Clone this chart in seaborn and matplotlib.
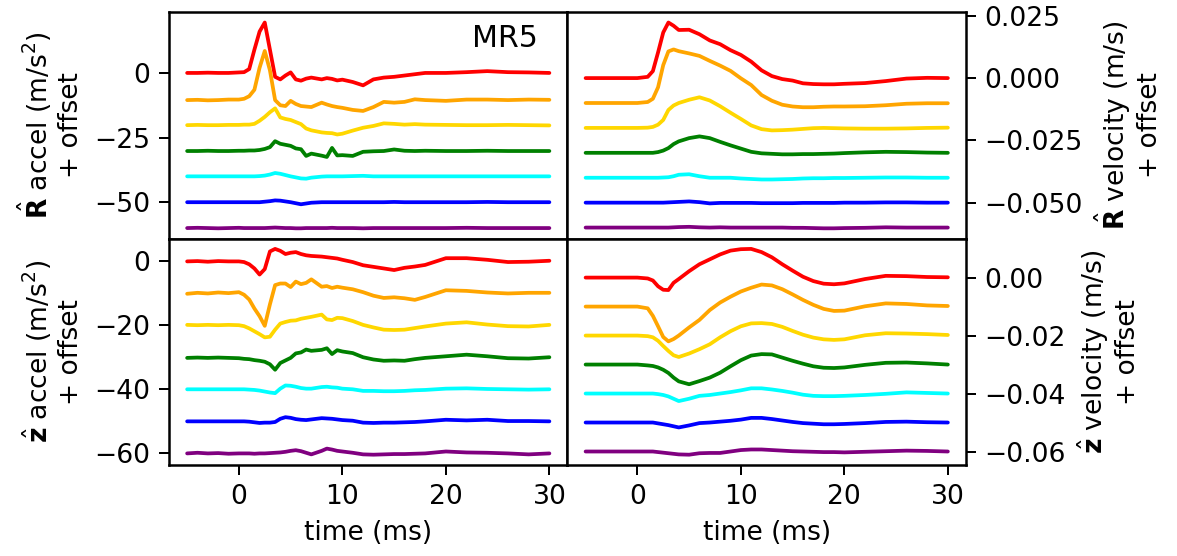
import numpy as np
import pandas as pd
import seaborn as sns
import matplotlib
matplotlib.use("Agg")
import matplotlib.pyplot as plt

# traces, top to bottom, each shifted by a fixed offset
trace_names = ["1", "2", "3", "4", "5", "6", "7"]
trace_colors = ["red", "orange", "gold", "green", "cyan", "blue", "purple"]
accel_offsets = [0, -10, -20, -30, -40, -50, -60]      # m/s^2
vel_offsets_mms = [0, -10, -20, -30, -40, -50, -60]    # mm/s

# time grid (ms) for the acceleration panels
t_acc = [-5, -4, -3, -2, -1, 0, 0.5, 1, 1.5, 2, 2.5, 3, 3.5, 4, 4.5, 5, 5.5, 6, 6.5, 7,
         8, 8.5, 9, 9.5, 10, 11, 12, 13, 14, 15, 16, 17, 18, 20, 22, 24, 26, 28, 30]

# R accel (m/s^2), before offset
r_acc = [
    [0, 0, 0.1, 0, 0, 0.2, 0.3, 1.5, 9, 16, 19.5, 9, -1.5, -2.5, -1, 0.2, -2.5, -3, -2.2, -1.8,
     -2.5, -2, -2.3, -2.9, -2.6, -3.5, -4.8, -2.5, -1.8, -1.5, -1, -0.5, 0, 0, 0.3, 0.7, 0.3, 0.2, 0],
    [-0.5, -0.4, -0.6, -0.5, -0.3, -0.3, 0, 1, 3.5, 12, 18.5, 11, -0.5, -2.5, -2.8, -0.8, -2, -2.8, -3, -3.2,
     -1.5, -2.2, -2.8, -3.2, -3.5, -4.3, -4.7, -3.2, -1.2, -1.5, -1.2, -0.2, -0.5, -0.8, -0.3, -0.3, -0.5, -0.3, -0.4],
    [-0.2, -0.1, -0.2, -0.2, -0.1, -0.1, 0, 0, 0.3, 1.5, 3, 4.8, 6.3, 2.8, 2.2, 1.8, 1.0, 0.2, -1.5, -2.2,
     -3, -3.2, -3.3, -3.8, -3.5, -2.3, -1.2, -0.5, 0.5, 0.3, 0, 0.2, 0, -0.1, -0.2, -0.2, -0.1, -0.2, -0.3],
    [-0.2, -0.2, -0.1, -0.2, -0.2, -0.1, -0.1, 0, 0, 0.2, 0.6, 1.3, 3.6, 2.6, 2.2, 1.8, 0.8, 0.5, -2.1, -1.2,
     -2.0, -2.5, 1.0, -1.9, -1.8, -2.1, -0.5, -0.3, -0.2, 0.4, -0.1, -0.2, -0.1, -0.2, -0.2, -0.1, -0.2, -0.2, -0.2],
    [0, 0, 0, 0, 0, 0, 0, 0, 0, 0.1, 0.3, 0.7, 1.3, 1.0, 0.5, 0, -0.4, -0.8, -0.9, -0.5,
     -0.1, 0, 0, 0, 0, 0.1, 0.2, 0, 0, 0, 0, 0, 0, 0, 0, 0, 0, 0, 0],
    [0, 0, 0, 0, 0, 0, 0, 0, 0, 0, 0.2, 0.4, 0.7, 0.6, 0.3, 0, -0.4, -0.8, -0.5, -0.2,
     0, 0, 0, 0, 0, 0, 0, 0, 0, 0.1, 0, 0, 0, 0, 0, 0.1, 0, 0, 0],
    [0, 0.1, 0, -0.1, 0, 0.1, 0, 0, 0, 0, 0, 0.1, 0.2, 0.1, 0, 0, -0.1, -0.1, 0, 0,
     0, 0, 0.1, 0, 0, 0, -0.1, 0, 0, 0, 0, 0, 0, 0, 0.1, 0, 0, 0, 0],
]

# z accel (m/s^2), before offset
z_acc = [
    [-0.1, 0, -0.2, 0, -0.1, -0.1, -0.3, -1.0, -2.3, -4.2, -2.5, 3.0, 3.8, 3.2, 2.2, 2.6, 2.8, 2.2, 1.8, 1.6,
     1.4, 1.2, 1.0, 0.8, 0.4, -0.3, -1.3, -1.8, -2.3, -2.8, -2.1, -1.7, -1.2, 0.9, 0.9, 0.4, -0.3, -0.2, 0.1],
    [-0.2, 0.1, -0.1, 0.2, 0, 0.3, -0.5, -2, -4.8, -7.2, -10.2, -3.5, 2.5, 3.0, 3.0, 1.9, 3.6, 2.8, 3.2, 4.3,
     2.0, 2.2, 1.6, 2.0, 1.7, 1.2, 0.3, -0.8, -1.5, -1.3, -1.6, -2.1, -1.2, 0.9, 0.7, 0.2, -0.1, 0.1, 0.1],
    [0.1, 0, 0.1, 0, 0.1, 0, -0.3, -1.0, -1.9, -2.8, -3.8, -3.6, -1.4, 0.5, 1.0, 1.4, 1.5, 2.0, 2.3, 2.6,
     3.3, 1.8, 1.6, 2.3, 2.2, 1.3, 0.1, -0.7, -1.4, -1.5, -1.4, -0.9, -0.4, 0.5, 0.9, 0.2, -0.3, -0.4, 0.1],
    [-0.2, -0.1, -0.2, -0.1, -0.2, -0.3, -0.5, -0.6, -0.9, -1.1, -1.4, -2.2, -3.9, -1.8, -1.0, -0.2, 1.2, 1.5, 2.4, 2.0,
     2.3, 2.8, 1.0, 2.2, 1.8, 1.3, 0, -0.7, -1.1, -1.0, -1.1, -0.6, -0.2, 0.3, 0.8, 0.3, -0.3, -0.4, 0],
    [0, 0, 0, 0, 0, 0, 0, -0.1, -0.2, -0.4, -0.7, -1.0, -1.2, 0.2, 1.2, 1.1, 0.8, 0.4, 0.2, 0.2,
     0.7, 0.8, 0.6, 0.5, 0.2, 0, -0.5, -0.5, -0.6, -0.6, -0.5, -0.3, -0.2, 0.2, 0.3, 0.1, 0, -0.1, 0],
    [0, 0, 0, 0, 0, 0, 0, -0.1, -0.3, -0.5, -0.4, -0.4, -0.2, 0.8, 1.3, 1.1, 0.7, 0.5, 0.4, 0.6,
     1.0, 0.9, 0.8, 0.6, 0.4, 0.2, -0.4, -0.5, -0.4, -0.4, -0.3, -0.2, 0, 0.5, 0.3, 0.5, 0.1, 0.1, 0],
    [0, 0.2, 0, 0.1, -0.1, 0, 0, 0, -0.1, 0, 0, 0.1, 0.2, 0.3, 0.5, 0.8, 1.0, 0.7, 0.2, -0.3,
     0.8, 1.5, 1.2, 0.8, 0.6, 0.2, -0.3, -0.4, -0.3, -0.2, -0.2, -0.1, 0, 0.6, 0.3, 0.2, 0, -0.3, 0],
]

# time grid (ms) for the velocity panels
t_vel = [-5, -4, -3, -2, -1, 0, 1, 1.5, 2, 2.5, 3, 3.5, 4, 5, 6, 7, 8, 9, 10, 11, 12, 13, 14,
         15, 16, 17, 18, 19, 20, 22, 24, 26, 28, 30]

# R velocity (mm/s), before offset
r_vel_mms = [
    [0, 0, 0, 0, 0, 0, 0.5, 2.8, 10.3, 18.3, 22.3, 21.0, 19.3, 19.4, 17.6, 15.1, 13.6, 11.2, 9.3, 6.6,
     3.1, 0.8, -0.4, -1.0, -2.1, -2.4, -2.5, -2.5, -2.3, -2.0, -1.2, -0.2, 0.1, 0],
    [0, 0, 0, 0, 0, 0, 0.4, 1.7, 6.3, 15.2, 20.7, 21.5, 20.8, 19.9, 18.9, 16.9, 15.0, 12.9, 9.9, 7.2,
     3.2, 0.9, -0.7, -1.4, -1.7, -1.7, -1.5, -1.4, -1.4, -1.3, -0.9, -0.3, -0.1, -0.1],
    [0, 0, 0, 0, 0, 0, 0.1, 0.4, 1.3, 3.2, 7.2, 9.0, 10.0, 11.3, 12.3, 11.0, 8.7, 6.1, 3.6, 1.0,
     -0.5, -1.0, -0.9, -0.7, -0.4, -0.1, 0, -0.1, -0.2, -0.3, -0.3, -0.2, 0, 0.1],
    [0, 0, 0, 0, 0, 0, 0, 0, 0.3, 0.9, 1.9, 3.5, 4.6, 5.9, 6.6, 5.9, 4.4, 3.0, 1.7, 0.4,
     -0.2, -0.4, -0.6, -0.6, -0.5, -0.5, -0.4, -0.3, -0.1, 0.2, 0.4, 0.3, 0.1, 0],
    [0, 0, 0, 0, 0, 0, 0, 0, 0, 0.1, 0.2, 0.6, 1.2, 1.4, 0.6, 0, 0, 0, -0.3, -0.5,
     -0.7, -0.7, -0.6, -0.5, -0.3, -0.2, -0.2, -0.1, -0.1, 0, 0.1, 0.1, 0, 0],
    [0, 0, 0, 0, 0, 0, 0, 0, 0, 0, 0.1, 0.2, 0.3, 0.5, 0.2, -0.3, -0.1, -0.1, -0.1, -0.1,
     -0.2, -0.2, -0.2, -0.2, -0.1, -0.1, -0.1, -0.1, 0, 0, 0.1, 0.1, 0, 0],
    [0, 0, 0, 0, 0, 0, 0, 0, 0, 0, 0, 0.1, 0.2, 0.3, 0.1, 0, 0.1, 0, 0, 0,
     0, 0, 0, -0.1, -0.1, -0.2, -0.3, -0.3, -0.2, -0.1, 0.1, 0, 0, 0],
]

# z velocity (mm/s), before offset
z_vel_mms = [
    [0, 0, 0, 0, 0, 0, -0.3, -1.0, -3.0, -4.2, -4.3, -1.8, -0.5, 2.2, 4.6, 6.3, 8.0, 9.3, 9.8, 9.9,
     8.8, 7.0, 4.6, 2.4, 0.3, -1.2, -2.1, -2.3, -2.0, -0.5, 0.6, 0.5, 0.2, 0.1],
    [0, 0, 0, 0, 0, 0, -0.6, -3.2, -6.8, -10.5, -12.0, -11.2, -10.0, -7.2, -4.6, -1.2, 1.4, 3.4, 5.2, 6.5,
     7.6, 7.3, 6.0, 4.2, 2.3, 0.6, -0.8, -1.5, -1.4, 0.1, 1.1, 0.9, 0.4, 0.2],
    [0, 0, 0, 0, 0, 0, -0.2, -0.6, -1.8, -3.6, -5.3, -6.8, -7.4, -6.2, -4.7, -3.0, -0.6, 1.5, 3.2, 4.2,
     4.3, 4.0, 3.0, 1.6, 0.3, -0.7, -1.3, -1.5, -1.3, 0.1, 0.8, 0.7, 0.5, 0.2],
    [0, 0, 0, 0, 0, 0, -0.3, -0.5, -1.0, -1.8, -2.9, -4.5, -5.8, -6.8, -5.7, -4.5, -2.8, -0.6, 1.5, 3.1,
     3.6, 3.5, 2.4, 1.3, 0.3, -0.6, -1.1, -1.2, -1.0, -0.1, 0.6, 0.7, 0.4, 0],
    [0, 0, 0, 0, 0, 0, 0, 0, -0.2, -0.5, -1.0, -1.8, -2.6, -1.8, -0.8, -0.5, 0, 0.5, 1.1, 1.8,
     1.8, 1.4, 0.9, 0.3, -0.4, -0.8, -0.9, -0.9, -0.8, -0.5, -0.1, 0.4, 0.2, 0],
    [0, 0, 0, 0, 0, 0, 0, 0, -0.3, -0.6, -0.9, -1.3, -1.7, -1.0, -0.2, 0, 0.3, 0.6, 1.0, 1.6,
     1.6, 1.2, 0.7, 0.2, -0.2, -0.4, -0.6, -0.6, -0.5, -0.2, 0.2, 0.3, 0.1, 0],
    [0, 0, 0, 0, 0, 0, 0, 0, -0.2, -0.4, -0.6, -0.8, -1.0, -1.1, -0.6, -0.5, -0.5, 0, 0.5, 0.7,
     0.7, 0.5, 0.3, 0.1, 0, -0.1, -0.2, -0.2, -0.3, -0.1, 0.1, 0.3, 0.2, 0],
]


def long_frame(times, series, offsets, scale=1.0):
    rows = []
    for name, vals, off in zip(trace_names, series, offsets):
        for t, v in zip(times, vals):
            rows.append({"time": t, "value": (v + off) * scale, "trace": name})
    return pd.DataFrame(rows)


sns.set_style("ticks", {"axes.edgecolor": "black", "xtick.color": "black",
                        "ytick.color": "black", "text.color": "black",
                        "axes.labelcolor": "black"})
plt.rcParams["font.family"] = ["DejaVu Sans"]
plt.rcParams["font.size"] = 10.6
plt.rcParams["xtick.major.size"] = 4
plt.rcParams["ytick.major.size"] = 4

fig, axes = plt.subplots(2, 2, figsize=(1177 / 180, 556 / 180), dpi=180, sharex=True)
fig.subplots_adjust(left=0.1436, right=0.8207, top=0.978, bottom=0.1637, wspace=0, hspace=0)

panels = [
    (axes[0, 0], long_frame(t_acc, r_acc, accel_offsets)),
    (axes[1, 0], long_frame(t_acc, z_acc, accel_offsets)),
    (axes[0, 1], long_frame(t_vel, r_vel_mms, vel_offsets_mms, 1e-3)),
    (axes[1, 1], long_frame(t_vel, z_vel_mms, vel_offsets_mms, 1e-3)),
]
for ax, df in panels:
    sns.lineplot(data=df, x="time", y="value", hue="trace", palette=trace_colors,
                 estimator=None, sort=False, legend=False, linewidth=1.5, ax=ax)
    ax.set_xlabel("")
    ax.set_ylabel("")
    for side in ["top", "right", "left", "bottom"]:
        ax.spines[side].set_visible(True)
        ax.spines[side].set_linewidth(1.0)

# top row: no x ticks at the shared border
for ax in axes[0]:
    ax.tick_params(axis="x", bottom=False, labelbottom=False)
for ax in axes[1]:
    ax.set_xlabel("time (ms)")
    ax.set_xticks([0, 10, 20, 30])

# right column: ticks and labels on the right
for ax in axes[:, 1]:
    ax.yaxis.tick_right()
    ax.yaxis.set_label_position("right")

axes[0, 0].set_yticks([0, -25, -50])
axes[1, 0].set_yticks([0, -20, -40, -60])
axes[0, 1].set_yticks([0.025, 0.0, -0.025, -0.05])
axes[1, 1].set_yticks([0.0, -0.02, -0.04, -0.06])
axes[0, 1].yaxis.set_major_formatter(matplotlib.ticker.FormatStrFormatter("%.3f"))
axes[1, 1].yaxis.set_major_formatter(matplotlib.ticker.FormatStrFormatter("%.2f"))
for ax in axes[:, 1]:
    ax.set_yticklabels([lbl.get_text().replace("-", "\u2212") for lbl in ax.get_yticklabels()])

axes[0, 0].set_ylabel(r"$\hat{\mathbf{R}}$ accel (m/s$^2$)" + "\n+ offset")
axes[1, 0].set_ylabel(r"$\hat{\mathbf{z}}$ accel (m/s$^2$)" + "\n+ offset")
axes[0, 1].set_ylabel(r"$\hat{\mathbf{R}}$ velocity (m/s)" + "\n+ offset")
axes[1, 1].set_ylabel(r"$\hat{\mathbf{z}}$ velocity (m/s)" + "\n+ offset")

axes[0, 0].text(0.925, 0.845, "MR5", transform=axes[0, 0].transAxes,
                ha="right", va="baseline", fontsize=12)

fig.savefig("out.png", dpi=180)
plt.close(fig)
